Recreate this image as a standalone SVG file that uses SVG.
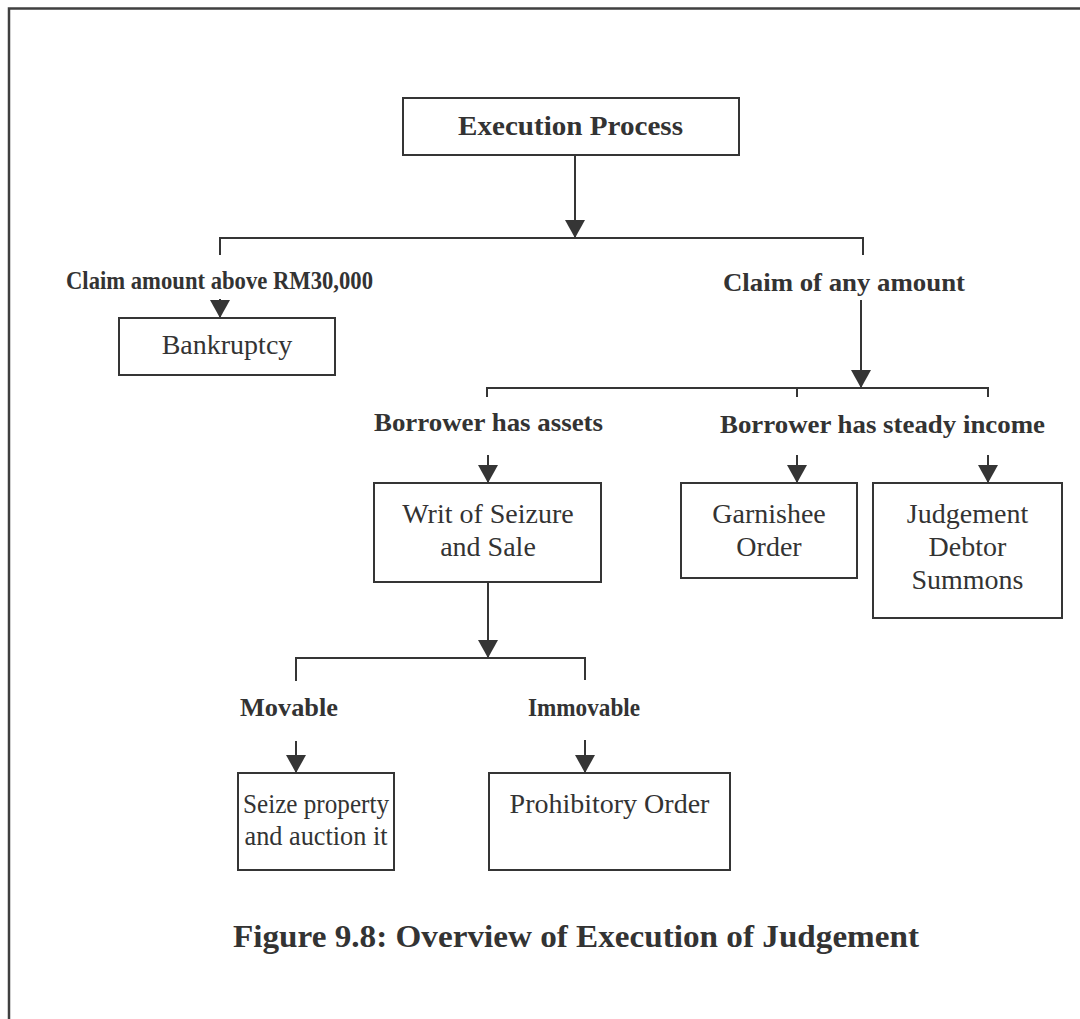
<svg xmlns="http://www.w3.org/2000/svg" width="1080" height="1019" viewBox="0 0 1080 1019">
  <style>
    .box { fill: #ffffff; stroke: #353535; stroke-width: 2; }
    .wire { fill: none; stroke: #353535; stroke-width: 2; }
    .frame { fill: none; stroke: #404040; stroke-width: 2.5; }
    .lbl { font-family: "Liberation Serif", "Times New Roman", serif; font-weight: bold; font-size: 26px; fill: #333333; text-anchor: middle; }
    .txt { font-family: "Liberation Serif", "Times New Roman", serif; font-size: 28px; fill: #333333; text-anchor: middle; }
    .cap { font-family: "Liberation Serif", "Times New Roman", serif; font-weight: bold; font-size: 32px; fill: #333333; text-anchor: middle; }
  </style>
  <defs>
    <marker id="arrow" markerUnits="userSpaceOnUse" markerWidth="20" markerHeight="20" refX="18" refY="10" orient="auto">
      <path d="M0,0 L18,10 L0,20 Z" fill="#353535"/>
    </marker>
  </defs>

  <rect width="1080" height="1019" fill="#ffffff"/>
  <!-- page frame: top and left edges only -->
  <path class="frame" d="M9,1019 V8.5 H1080"/>

  <!-- connectors -->
  <g id="connectors">
    <line class="wire" x1="575" y1="155" x2="575" y2="238" marker-end="url(#arrow)"/>
    <path class="wire" d="M220,255 V238 H863 V255"/>
    <line class="wire" x1="220" y1="299" x2="220" y2="318" marker-end="url(#arrow)"/>
    <line class="wire" x1="861" y1="300" x2="861" y2="388" marker-end="url(#arrow)"/>
    <path class="wire" d="M487,397 V388 H988 V397 M797,388 V397"/>
    <line class="wire" x1="488" y1="455" x2="488" y2="483" marker-end="url(#arrow)"/>
    <line class="wire" x1="797" y1="455" x2="797" y2="483" marker-end="url(#arrow)"/>
    <line class="wire" x1="988" y1="455" x2="988" y2="483" marker-end="url(#arrow)"/>
    <line class="wire" x1="488" y1="582" x2="488" y2="658" marker-end="url(#arrow)"/>
    <path class="wire" d="M296,681 V658 H585 V680"/>
    <line class="wire" x1="296" y1="741" x2="296" y2="773" marker-end="url(#arrow)"/>
    <line class="wire" x1="585" y1="740" x2="585" y2="773" marker-end="url(#arrow)"/>
  </g>

  <!-- branch labels -->
  <g id="labels">
    <text class="lbl" x="219.5" y="289" textLength="307" lengthAdjust="spacingAndGlyphs">Claim amount above RM30,000</text>
    <text class="lbl" x="844" y="291" textLength="242" lengthAdjust="spacingAndGlyphs">Claim of any amount</text>
    <text class="lbl" x="488.5" y="431" textLength="229" lengthAdjust="spacingAndGlyphs">Borrower has assets</text>
    <text class="lbl" x="882.5" y="433" textLength="325" lengthAdjust="spacingAndGlyphs">Borrower has steady income</text>
    <text class="lbl" x="289" y="716" textLength="98" lengthAdjust="spacingAndGlyphs">Movable</text>
    <text class="lbl" x="584" y="716" textLength="112" lengthAdjust="spacingAndGlyphs">Immovable</text>
  </g>

  <g id="execution-process">
    <rect class="box" x="403" y="98" width="336" height="57"/>
    <text class="lbl" x="570.5" y="135" style="font-size:28px" textLength="225" lengthAdjust="spacingAndGlyphs">Execution Process</text>
  </g>

  <g id="bankruptcy">
    <rect class="box" x="119" y="318" width="216" height="57"/>
    <text class="txt" x="227" y="354">Bankruptcy</text>
  </g>

  <g id="writ-of-seizure">
    <rect class="box" x="374" y="483" width="227" height="99"/>
    <text class="txt" x="488" y="523">Writ of Seizure</text>
    <text class="txt" x="488" y="556">and Sale</text>
  </g>

  <g id="garnishee-order">
    <rect class="box" x="681" y="483" width="176" height="95"/>
    <text class="txt" x="769" y="523">Garnishee</text>
    <text class="txt" x="769" y="556">Order</text>
  </g>

  <g id="judgement-debtor-summons">
    <rect class="box" x="873" y="483" width="189" height="135"/>
    <text class="txt" x="967.5" y="523">Judgement</text>
    <text class="txt" x="967.5" y="556">Debtor</text>
    <text class="txt" x="967.5" y="589">Summons</text>
  </g>

  <g id="seize-property">
    <rect class="box" x="238" y="773" width="156" height="97"/>
    <text class="txt" x="316" y="813" textLength="146" lengthAdjust="spacingAndGlyphs">Seize property</text>
    <text class="txt" x="316" y="845" textLength="143" lengthAdjust="spacingAndGlyphs">and auction it</text>
  </g>

  <g id="prohibitory-order">
    <rect class="box" x="489" y="773" width="241" height="97"/>
    <text class="txt" x="609.5" y="813">Prohibitory Order</text>
  </g>

  <text class="cap" x="576" y="947" textLength="686" lengthAdjust="spacingAndGlyphs">Figure 9.8: Overview of Execution of Judgement</text>
</svg>
